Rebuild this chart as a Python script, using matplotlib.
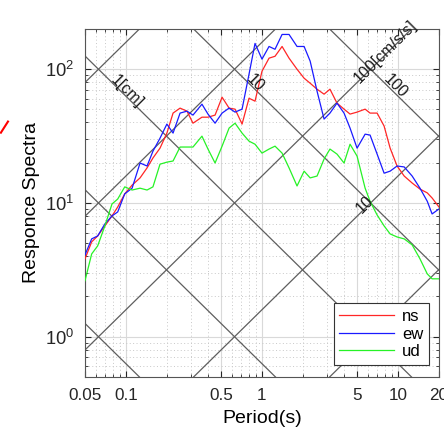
import matplotlib
matplotlib.use('Agg')
import matplotlib.pyplot as plt
import numpy as np
from matplotlib.lines import Line2D

plt.rcParams['font.family'] = ['Liberation Sans', 'DejaVu Sans']
plt.rcParams['mathtext.fontset'] = 'custom'
plt.rcParams['mathtext.rm'] = 'Liberation Sans'

# period (s) and response spectra values
period = [0.05, 0.056, 0.062, 0.07, 0.079, 0.087, 0.098, 0.111, 0.127, 0.143,
          0.158, 0.178, 0.2, 0.222, 0.25, 0.281, 0.311, 0.362, 0.401, 0.452,
          0.509, 0.573, 0.634, 0.714, 0.803, 0.889, 1.0, 1.127, 1.247, 1.405,
          1.581, 1.81, 2.04, 2.26, 2.54, 2.86, 3.16, 3.56, 4.01, 4.44,
          5.0, 5.73, 6.23, 7.02, 7.9, 8.75, 9.84, 11.1, 12.7, 14.5,
          16.4, 17.8, 20.0]

ns = [3.82, 5.12, 5.67, 6.74, 8.0, 9.33, 11.7, 13.6, 15.4, 18.3,
      21.7, 25.7, 33.3, 47.0, 51.2, 48.6, 39.5, 43.8, 43.8, 45.4,
      61.8, 51.2, 50.3, 38.9, 60.7, 57.7, 96.6, 121, 125, 148,
      121, 100, 85.7, 78.6, 70.9, 65.1, 70.9, 55.8, 50.3, 46.2,
      47.8, 50.3, 47.0, 47.0, 37.6, 25.7, 18.9, 15.9, 14.1, 12.7,
      11.9, 10.9, 9.33]

ew = [4.09, 5.39, 5.67, 6.97, 8.0, 8.57, 11.7, 12.9, 19.9, 18.9,
      24.4, 30.5, 38.9, 33.3, 47.0, 48.6, 45.4, 54.8, 46.2, 39.5,
      47.0, 51.2, 47.8, 50.3, 91.8, 156, 119, 148, 141, 182,
      182, 148, 148, 115, 68.5, 42.4, 47.0, 55.8, 47.0, 36.3,
      25.7, 32.7, 32.2, 23.2, 16.7, 17.3, 18.9, 18.6, 15.9, 12.9,
      10.3, 8.28, 9.02]

ud = [2.62, 4.16, 4.78, 6.74, 9.83, 10.7, 13.2, 12.5, 12.9, 12.5,
      13.2, 19.5, 20.2, 20.6, 26.2, 26.2, 26.2, 31.6, 25.3, 19.9,
      26.6, 36.3, 39.5, 33.3, 29.0, 27.5, 23.6, 25.3, 26.6, 23.6,
      18.3, 13.4, 17.3, 15.4, 15.9, 21.3, 25.3, 23.2, 19.9, 27.5,
      22.4, 12.9, 10.3, 8.13, 6.74, 5.87, 5.57, 5.39, 4.86, 3.82,
      2.95, 2.71, 2.71]

# tripartite guide lines: displacement [cm] and acceleration [cm/s/s]
disp_levels = [1e-3, 1e-2, 1e-1, 1, 10, 100, 1000, 1e4]
acc_levels = [1e-1, 1, 10, 100, 1000, 1e4, 1e5]

xticks = [0.05, 0.1, 0.5, 1, 5, 10, 20]
xticklabels = ['0.05', '0.1', '0.5', '1', '5', '10', '20']

fig = plt.figure(figsize=(4.44, 4.28), dpi=100)
ax = fig.add_axes([0.1914, 0.1192, 0.7973, 0.8131])

tt = np.logspace(np.log10(0.01), np.log10(100), 50)
for d in disp_levels:
    ax.plot(tt, 2 * np.pi * d / tt, color='#5e5e5e', lw=0.9, zorder=1)
for a in acc_levels:
    ax.plot(tt, a * tt / (2 * np.pi), color='#5e5e5e', lw=0.9, zorder=1)

ax.plot(period, ns, color=(1, 0.15, 0.15), lw=0.9, label='ns', zorder=3)
ax.plot(period, ew, color=(0.1, 0.1, 1), lw=0.9, label='ew', zorder=3)
ax.plot(period, ud, color=(0.15, 0.95, 0.15), lw=0.9, label='ud', zorder=3)

ax.set_xscale('log')
ax.set_yscale('log')
ax.set_xlim(0.05, 20)
ax.set_ylim(0.5, 200)
ax.set_xticks(xticks)
ax.set_xticklabels(xticklabels)

ax.grid(True, which='major', color='#d9d9d9', lw=0.8, ls='-')
ax.grid(True, which='minor', color='#c8c8c8', lw=0.7, ls=(0, (1, 2.5)))
ax.set_axisbelow(True)

ax.tick_params(which='both', direction='in', top=True, right=True,
               colors='#262626')
ax.tick_params(axis='x', labelsize=12.3)
ax.tick_params(axis='y', labelsize=13.2)
ax.tick_params(which='major', length=4, pad=8)
ax.tick_params(which='minor', length=2)
for s in ax.spines.values():
    s.set_color('#555555')
    s.set_linewidth(0.8)

ax.set_xlabel('Period(s)', fontsize=14, labelpad=5)
ax.set_ylabel('Responce Spectra', fontsize=14, labelpad=3)

# labels on guide lines
lab_kw = dict(fontsize=11.5, ha='center', va='center', color='#1a1a1a', zorder=4)
ax.text(0.102, 68.5, '1[cm]', rotation=-45, **lab_kw)
ax.text(0.889, 78.6, '10', rotation=-45, **lab_kw)
ax.text(9.5, 74.6, '100', rotation=-45, **lab_kw)
ax.text(8.1, 134, '100[cm/s/s]', rotation=45, **lab_kw)
ax.text(5.73, 9.66, '10', rotation=45, **lab_kw)

leg = ax.legend(loc='lower right', bbox_to_anchor=(0.972, 0.034),
                borderaxespad=0, fontsize=12, fancybox=False,
                framealpha=1, edgecolor='#333333', handlelength=3.3,
                handletextpad=0.45, labelspacing=0.15, borderpad=0.35)
leg.get_frame().set_linewidth(0.8)

# small red stroke at the left edge of the picture
fig.add_artist(Line2D([0.002, 0.018], [0.69, 0.716], color='red', lw=1.5))

fig.savefig('out.png', dpi=100)
